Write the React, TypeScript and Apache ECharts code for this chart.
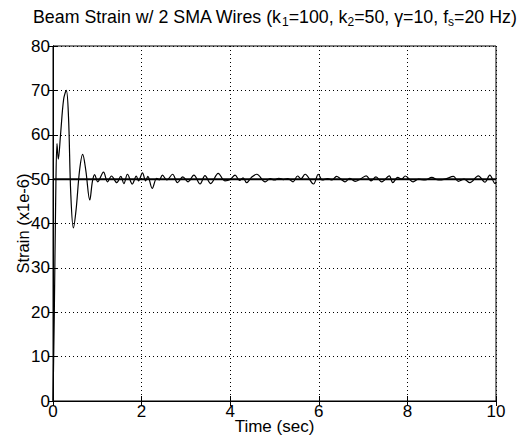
import React, { useEffect, useRef } from "react";
import * as echarts from "echarts";

const timeSec: number[] = [
  0, 0.03, 0.06, 0.09, 0.12, 0.17, 0.24, 0.3, 0.35, 0.4, 0.46, 0.52, 0.6, 0.67, 0.74, 0.83, 0.89, 0.94,
  1.01, 1.14, 1.23, 1.32, 1.44, 1.53, 1.6, 1.68, 1.79, 1.88, 1.93, 2.02, 2.09, 2.14, 2.24, 2.34, 2.4,
  2.47, 2.57, 2.7, 2.81, 2.93, 3.05, 3.18, 3.32, 3.43, 3.56, 3.73, 3.88, 4.0, 4.11, 4.21, 4.29, 4.37,
  4.48, 4.6, 4.79, 4.9, 5.0, 5.1, 5.2, 5.3, 5.42, 5.52, 5.6, 5.69, 5.88, 5.99, 6.08, 6.2, 6.3, 6.4,
  6.5, 6.59, 6.7, 6.82, 6.95, 7.07, 7.18, 7.29, 7.42, 7.59, 7.67, 7.78, 7.87, 7.95, 8.13, 8.25, 8.4,
  8.55, 8.7, 8.85, 9.04, 9.15, 9.28, 9.41, 9.6, 9.75, 9.86, 9.98, 10,
];

const strain: number[] = [
  0, 20, 45, 58, 54.5, 60, 68, 70, 64, 47, 39, 43, 52, 55.6, 52, 45.3, 49.5, 51,
  49.4, 51.6, 49.4, 50.7, 49.2, 50.6, 49.0, 51.1, 48.9, 50.7, 49.6, 51.4, 49.6, 50.6, 47.9, 50.2, 49.8,
  50.9, 49.8, 51.1, 49.2, 50.5, 49.4, 50.9, 48.9, 50.8, 49.0, 51.3, 49.6, 49.9, 50.9, 49.7, 50.3, 49.2,
  50.4, 51.1, 49.4, 50.1, 49.8, 50.2, 49.9, 50.1, 49.4, 50.7, 50.1, 51.1, 48.9, 51.1, 49.8, 50.1, 49.8, 50.6,
  50.0, 49.4, 50.2, 49.5, 50.1, 50.75, 49.6, 50.5, 49.4, 50.75, 49.2, 50.4, 50.0, 50.7, 49.4, 50.0, 49.8,
  50.4, 49.8, 50.0, 50.6, 49.5, 50.0, 49.2, 50.75, 49.3, 50.9, 49.0, 49.3,
];

const referenceTime: number[] = [0, 10];
const referenceStrain: number[] = [50, 50];

const xTicks: number[] = [0, 2, 4, 6, 8, 10];
const yTicks: number[] = [0, 10, 20, 30, 40, 50, 60, 70, 80];

const titleText = "Beam Strain w/ 2 SMA Wires (k{sub|1}=100, k{sub|2}=50, γ=10, f{sub|s}=20 Hz)";

const FONT = "'Liberation Sans', Arial, Helvetica, sans-serif";

export default function App() {
  const ref = useRef<HTMLDivElement>(null);
  useEffect(() => {
    if (!ref.current) return;
    const chart = echarts.init(ref.current, null, { renderer: "svg" });
    const gridLine = { show: true, lineStyle: { color: "#000", type: [1, 3] as any, width: 1 } };
    chart.setOption({
      animation: false,
      backgroundColor: "#fff",
      graphic: [
        {
          type: "text",
          x: 33,
          y: 6,
          style: {
            text: titleText,
            fontFamily: FONT,
            fontSize: 17.8,
            fill: "#000",
            align: "left",
            verticalAlign: "top",
            rich: {
              sub: { fontFamily: FONT, fontSize: 12, fill: "#000", padding: [10, 0, 0, 0] },
            },
          },
        },
      ],
      grid: {
        left: 53,
        right: 26,
        top: 46,
        bottom: 41,
        show: true,
        borderColor: "#000",
        borderWidth: 1,
        outerBoundsMode: "none",
        containLabel: false,
      },
      xAxis: [
        {
          type: "value",
          min: 0,
          max: 10,
          interval: 2,
          name: "Time (sec)",
          nameLocation: "middle",
          nameGap: 17,
          nameMoveOverlap: false,
          nameTextStyle: { fontFamily: FONT, fontSize: 17, color: "#000" },
          axisLine: { show: true, lineStyle: { color: "#000" } },
          axisTick: { show: true, inside: true, length: 5, lineStyle: { color: "#000" } },
          axisLabel: {
            fontFamily: FONT,
            fontSize: 17,
            color: "#000",
            margin: 2,
            formatter: (v: number) => (xTicks.includes(v) ? String(v) : ""),
          },
          splitLine: gridLine,
        },
        {
          type: "value",
          position: "top",
          min: 0,
          max: 10,
          interval: 2,
          axisLine: { show: true, lineStyle: { color: "#000" } },
          axisTick: { show: true, inside: true, length: 5, lineStyle: { color: "#000" } },
          axisLabel: { show: false },
          splitLine: { show: false },
        },
      ],
      yAxis: [
        {
          type: "value",
          min: 0,
          max: 80,
          interval: 10,
          name: "Strain (x1e-6)",
          nameLocation: "middle",
          nameGap: 22,
          nameMoveOverlap: false,
          nameTextStyle: { fontFamily: FONT, fontSize: 16.5, color: "#000" },
          axisLine: { show: true, lineStyle: { color: "#000" } },
          axisTick: { show: true, inside: true, length: 5, lineStyle: { color: "#000" } },
          axisLabel: {
            fontFamily: FONT,
            fontSize: 17,
            color: "#000",
            margin: 3,
            formatter: (v: number) => (yTicks.includes(v) ? String(v) : ""),
          },
          splitLine: gridLine,
        },
        {
          type: "value",
          position: "right",
          min: 0,
          max: 80,
          interval: 10,
          axisLine: { show: true, lineStyle: { color: "#000" } },
          axisTick: { show: true, inside: true, length: 5, lineStyle: { color: "#000" } },
          axisLabel: { show: false },
          splitLine: { show: false },
        },
      ],
      series: [
        {
          type: "line",
          name: "Reference",
          data: referenceTime.map((t, i) => [t, referenceStrain[i]]),
          showSymbol: false,
          lineStyle: { color: "#000", width: 2 },
          z: 2,
        },
        {
          type: "line",
          name: "Strain",
          data: timeSec.map((t, i) => [t, strain[i]]),
          showSymbol: false,
          smooth: 0.35,
          lineStyle: { color: "#000", width: 1.2 },
          z: 3,
        },
      ],
    });
    return () => chart.dispose();
  }, []);
  return <div ref={ref} style={{ width: 522, height: 442, position: "absolute", left: 0, top: 0 }} />;
}
